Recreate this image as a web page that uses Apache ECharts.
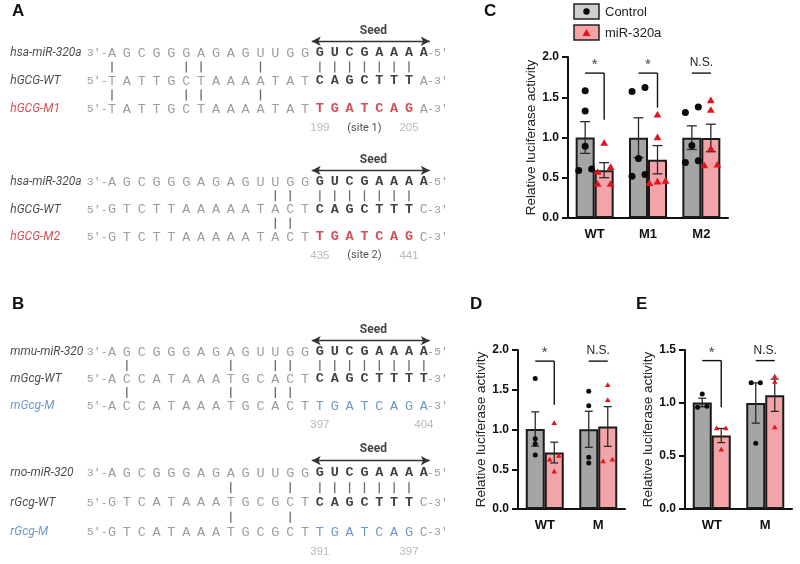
<!DOCTYPE html>
<html>
<head>
<meta charset="utf-8">
<script src="https://cdn.jsdelivr.net/npm/echarts@6/dist/echarts.min.js"></script>
<style>
  html, body { margin: 0; padding: 0; background: #fff; }
  #chart { width: 800px; height: 564px; }
</style>
</head>
<body>
<div id="chart"></div>
<script>
// ---------- luciferase data (panels C, D, E) ----------
const groupNames = ['Control', 'miR-320a']
const catsC = ['WT', 'M1', 'M2']
const ctrlC = [[1.58, 1.33, 0.89, 0.59, 0.61], [1.62, 1.57, 0.74, 0.52, 0.54], [1.38, 1.31, 0.90, 0.69, 0.71]]
const mirC = [[0.93, 0.57, 0.63, 0.42, 0.42], [1.28, 1.00, 0.43, 0.46, 0.45], [1.46, 1.34, 0.86, 0.65, 0.66]]
const catsD = ['WT', 'M']
const ctrlD = [[1.64, 0.885, 0.82, 0.68], [1.48, 1.30, 0.65, 0.58]]
const mirD = [[1.08, 0.62, 0.67, 0.47], [1.56, 1.37, 0.60, 0.62]]
const catsE = ['WT', 'M']
const ctrlE = [[1.085, 0.96, 0.97], [1.19, 1.19, 0.62]]
const mirE = [[0.76, 0.76, 0.56], [1.25, 1.20, 0.77]]
const yMaxC = 2.0, yMaxD = 2.0, yMaxE = 1.5
const yName = 'Relative luciferase activity'
// significance: label, bracket level, drop level (null = plain bar)
const sigC = [['*', 1.80, 1.22], ['*', 1.80, 1.37], ['N.S.', 1.80, null]]
const sigD = [['*', 1.86, 1.31], ['N.S.', 1.86, null]]
const sigE = [['*', 1.40, 0.96], ['N.S.', 1.40, null]]

// ---------- sequence alignments (panels A, B) ----------
const alignNames = [
  ['hsa-miR-320a', 'hGCG-WT', 'hGCG-M1'],
  ['hsa-miR-320a', 'hGCG-WT', 'hGCG-M2'],
  ['mmu-miR-320', 'mGcg-WT', 'mGcg-M'],
  ['rno-miR-320', 'rGcg-WT', 'rGcg-M']
]
const mirnaSeq = ['AGCGGGAGAGUUGG', 'GUCGAAAA']
const wtSeqs = [
  ['TATTGCTAAAATAT', 'CAGCTTT', 'A'],
  ['GTCTTAAAAATACT', 'CAGCTTT', 'C'],
  ['ACCATAAATGCACT', 'CAGCTTTT', ''],
  ['GTCATAAATGCGCT', 'CAGCTTT', 'C']
]
const mutSeqs = [
  ['TATTGCTAAAATAT', 'TGATCAG', 'A'],
  ['GTCTTAAAAATACT', 'TGATCAG', 'C'],
  ['ACCATAAATGCACT', 'TGATCAGA', ''],
  ['GTCATAAATGCGCT', 'TGATCAG', 'C']
]
const pairCols = [[0, 5, 6, 10], [11, 12], [1, 8, 11, 12], [8, 12]]
const siteNums = [['199', '205'], ['435', '441'], ['397', '404'], ['391', '397']]
const siteTags = ['(site 1)', '(site 2)', '', '']

// ---------- layout ----------
const FONT = 'Liberation Sans'
const BAR_W = 19
const alignRow0 = [53, 182, 352, 473]
const alignGap = [28, 27.5, 27, 29.5]
const COL0 = 112, COLW = 14.85
const mutColor = ['#c8202a', '#c8202a', '#4a7ebb', '#4a7ebb']

const mean = a => a.reduce((s, v) => s + v, 0) / a.length
const sem = a => {
  const m = mean(a)
  return Math.sqrt(a.reduce((s, v) => s + (v - m) * (v - m), 0) / (a.length - 1) / a.length)
}

// spread overlapping dots sideways
function swarmOffset(vals, k, ppu, size) {
  const idx = vals.map((v, i) => i).sort((a, b) => vals[a] - vals[b])
  const clusters = [[idx[0]]]
  for (let i = 1; i < idx.length; i++) {
    const last = clusters[clusters.length - 1]
    if ((vals[idx[i]] - vals[last[last.length - 1]]) * ppu < size) last.push(idx[i])
    else clusters.push([idx[i]])
  }
  const cl = clusters.find(c => c.includes(k))
  const n = cl.length, j = cl.indexOf(k)
  const sp = n === 2 ? size * 1.85 : size * 1.15
  return (j - (n - 1) / 2) * sp
}

const grids = [], xAxes = [], yAxes = [], series = []

function addPanel(box, cats, ctrl, mir, sig, yMax, size) {
  const gi = grids.length
  grids.push({ left: box[0], top: box[1], width: box[2], height: box[3], outerBoundsMode: 'none' })
  xAxes.push({
    gridIndex: gi, type: 'category', data: cats,
    axisLine: { lineStyle: { color: '#111', width: 2 } },
    axisTick: { show: false },
    axisLabel: { fontFamily: FONT, fontWeight: 'bold', fontSize: 13, color: '#111', margin: 10 }
  })
  yAxes.push({
    gridIndex: gi, type: 'value', min: 0, max: yMax, interval: 0.5,
    axisLine: { show: true, lineStyle: { color: '#111', width: 2 } },
    axisTick: { show: true, length: 6, lineStyle: { color: '#111', width: 2 } },
    axisLabel: { fontFamily: FONT, fontWeight: 'bold', fontSize: 12, color: '#111', margin: 9,
      formatter: v => v.toFixed(1) },
    splitLine: { show: false },
    name: yName, nameLocation: 'middle', nameGap: 30,
    nameTextStyle: { fontFamily: FONT, fontSize: 13.5, color: '#222' }
  })
  const groups = [ctrl, mir]
  const fills = ['#a5a5a5', '#f2a4a8']
  groups.forEach((g, gix) => {
    series.push({
      type: 'bar', name: groupNames[gix], xAxisIndex: gi, yAxisIndex: gi,
      data: g.map(mean), barWidth: BAR_W, barGap: '0%', silent: true,
      itemStyle: { color: fills[gix], borderColor: '#1a1a1a', borderWidth: 2 }
    })
  })
  // error bars (mean +- SEM)
  const errData = []
  groups.forEach((g, gix) => g.forEach((vals, c) => errData.push([c, gix, mean(vals), sem(vals)])))
  const cap = size + 3
  series.push({
    type: 'custom', xAxisIndex: gi, yAxisIndex: gi, encode: { x: 0, y: 2 }, z: 4, silent: true,
    data: errData,
    renderItem(params, api) {
      const c = api.value(0), g = api.value(1), m = api.value(2), s = api.value(3)
      const x = api.coord([c, m])[0] + (g ? BAR_W / 2 : -BAR_W / 2)
      const yt = api.coord([c, m + s])[1], yb = api.coord([c, m - s])[1]
      const st = { stroke: '#2a2a2a', lineWidth: 1.3 }
      return { type: 'group', children: [
        { type: 'line', shape: { x1: x, y1: yt, x2: x, y2: yb }, style: st },
        { type: 'line', shape: { x1: x - cap / 2, y1: yt, x2: x + cap / 2, y2: yt }, style: st },
        { type: 'line', shape: { x1: x - cap / 2, y1: yb, x2: x + cap / 2, y2: yb }, style: st }
      ] }
    }
  })
  // individual points
  const ptData = []
  groups.forEach((g, gix) => g.forEach((vals, c) => vals.forEach((v, k) => ptData.push([c, gix, v, k]))))
  series.push({
    type: 'custom', xAxisIndex: gi, yAxisIndex: gi, encode: { x: 0, y: 2 }, z: 5, silent: true,
    data: ptData,
    renderItem(params, api) {
      const c = api.value(0), g = api.value(1), v = api.value(2), k = api.value(3)
      const ppu = api.size([0, 1])[1]
      const off = swarmOffset(groups[g][c], k, ppu, size)
      const p = api.coord([c, v])
      const x = p[0] + (g ? BAR_W / 2 : -BAR_W / 2) + off
      if (g === 0) return { type: 'circle', shape: { cx: x, cy: p[1], r: size / 2 }, style: { fill: '#0a0a0a' } }
      const w = size * 1.12, h = size * 0.95
      return { type: 'polygon', shape: { points: [[x, p[1] - h * 0.6], [x - w / 2, p[1] + h * 0.4], [x + w / 2, p[1] + h * 0.4]] },
        style: { fill: '#e0141e' } }
    }
  })
  // significance brackets
  series.push({
    type: 'custom', xAxisIndex: gi, yAxisIndex: gi, encode: { x: 0, y: 1 }, z: 6, silent: true,
    data: sig.map((s, c) => [c, s[1]]),
    renderItem(params, api) {
      const s = sig[params.dataIndex], c = params.dataIndex
      const p = api.coord([c, s[1]])
      const xl = p[0] - BAR_W / 2, xr = p[0] + BAR_W / 2
      const st = { stroke: '#111', lineWidth: 1.4 }
      const ch = [{ type: 'line', shape: { x1: xl, y1: p[1], x2: xr, y2: p[1] }, style: st }]
      if (s[2] != null) ch.push({ type: 'line', shape: { x1: xr, y1: p[1], x2: xr, y2: api.coord([c, s[2]])[1] }, style: st })
      const star = s[0] === '*'
      ch.push({ type: 'text', style: { text: s[0], x: p[0], y: p[1] - (star ? 8 : 10), align: 'center', verticalAlign: 'middle',
        fill: star ? '#444' : '#222', font: (star ? '15px ' : '12px ') + FONT } })
      return { type: 'group', children: ch }
    }
  })
}

addPanel([568, 57, 160, 161], catsC, ctrlC, mirC, sigC, yMaxC, 7)
addPanel([518, 350, 107, 159], catsD, ctrlD, mirD, sigD, yMaxD, 5)
addPanel([685, 350, 107, 159], catsE, ctrlE, mirE, sigE, yMaxE, 5)

function addAlignment(b) {
  const gi = grids.length
  const gap = alignGap[b]
  grids.push({ left: COL0 - 7 * COLW, top: alignRow0[b] - gap, width: 30.5 * COLW, height: 4 * gap, outerBoundsMode: 'none' })
  xAxes.push({ gridIndex: gi, type: 'value', min: -7, max: 23.5, show: false })
  yAxes.push({ gridIndex: gi, type: 'value', min: -1, max: 3, inverse: true, show: false })

  const SEQ = { color: '#858585' }
  const SEED = { color: '#111', fontWeight: 'bold' }
  const MUT = { color: mutColor[b], fontWeight: b < 2 ? 'bold' : 'normal' }
  const END = { color: '#858585', fontSize: 11.5 }
  const rows = [
    { name: alignNames[b][0], nc: '#1a1a1a', pre: "3'-", suf: "-5'", parts: [[mirnaSeq[0], SEQ], [mirnaSeq[1], SEED]] },
    { name: alignNames[b][1], nc: '#1a1a1a', pre: "5'-", suf: "-3'", parts: [[wtSeqs[b][0], SEQ], [wtSeqs[b][1], SEED], [wtSeqs[b][2], SEQ]] },
    { name: alignNames[b][2], nc: mutColor[b], pre: "5'-", suf: "-3'", parts: [[mutSeqs[b][0], SEQ], [mutSeqs[b][1], MUT], [mutSeqs[b][2], SEQ]] }
  ]
  const items = []
  const put = (col, row, text, lab) => items.push({ name: text, value: [col, row], label: lab })
  rows.forEach((r, ri) => {
    put(-6.85, ri, r.name, { align: 'left', fontFamily: 'Roboto', fontStyle: 'italic', fontSize: 12, color: r.nc })
    put(-0.3, ri, r.pre, Object.assign({ align: 'right' }, END))
    let col = 0
    r.parts.forEach(([seq, st]) => {
      for (const ch of seq) { put(col, ri, ch, st); col++ }
    })
    put(col - 1 + 0.22, ri, r.suf, Object.assign({ align: 'left' }, END))
  })
  put(17.6, -0.8, 'Seed', { fontFamily: 'Roboto', fontWeight: 'bold', fontSize: 12, color: '#111' })
  const nSeed = mutSeqs[b][1].length
  put(14, 2.68, siteNums[b][0], { fontFamily: FONT, fontSize: 11.5, color: '#a8a8a8' })
  put(14 + nSeed - 1, 2.68, siteNums[b][1], { fontFamily: FONT, fontSize: 11.5, color: '#a8a8a8' })
  if (siteTags[b]) put(17, 2.68, siteTags[b], { fontFamily: 'Roboto', fontSize: 11, color: '#222' })

  series.push({
    type: 'scatter', xAxisIndex: gi, yAxisIndex: gi, silent: true, symbolSize: 1,
    itemStyle: { color: 'rgba(0,0,0,0)' },
    label: { show: true, position: 'inside', verticalAlign: 'middle', formatter: p => p.name,
      fontFamily: 'Liberation Mono', fontSize: 13.5, color: '#858585' },
    data: items
  })

  // base-pair ticks and the seed arrow
  const seedCols = wtSeqs[b][1].split('').map((_, i) => 14 + i)
  const ticks = pairCols[b].concat(seedCols).map(c => [c, 0.5]).concat(pairCols[b].map(c => [c, 1.5]))
  series.push({
    type: 'scatter', xAxisIndex: gi, yAxisIndex: gi, silent: true,
    symbol: 'rect', symbolSize: [1.3, 11], itemStyle: { color: '#444' },
    data: ticks,
    markLine: {
      silent: true, symbol: ['arrow', 'arrow'], symbolSize: [7, 9],
      label: { show: false },
      lineStyle: { color: '#333', width: 1.3, type: 'solid' },
      data: [[{ coord: [13.45, -0.42] }, { coord: [21.4, -0.42] }]]
    }
  })
}
for (let b = 0; b < 4; b++) addAlignment(b)

const letter = (t, x, y) => ({ type: 'text', x, y, style: { text: t, font: 'bold 17px ' + FONT, fill: '#111' } })
const graphic = [
  letter('A', 12, 3), letter('B', 12, 296), letter('C', 484, 3), letter('D', 470, 296), letter('E', 636, 296),
  { type: 'rect', shape: { x: 574, y: 4, width: 25, height: 15 }, style: { fill: '#cfcfcf', stroke: '#222', lineWidth: 1.5 } },
  { type: 'circle', shape: { cx: 586.5, cy: 11.5, r: 3.2 }, style: { fill: '#000' } },
  { type: 'text', x: 605, y: 12, style: { text: groupNames[0], font: '13px ' + FONT, fill: '#222', verticalAlign: 'middle' } },
  { type: 'rect', shape: { x: 574, y: 25, width: 25, height: 15 }, style: { fill: '#f5a3a6', stroke: '#222', lineWidth: 1.5 } },
  { type: 'polygon', shape: { points: [[586.5, 29], [582.5, 36], [590.5, 36]] }, style: { fill: '#e0141e' } },
  { type: 'text', x: 605, y: 33, style: { text: groupNames[1], font: '13px ' + FONT, fill: '#222', verticalAlign: 'middle' } }
]

const chart = echarts.init(document.getElementById('chart'))
chart.setOption({
  backgroundColor: '#ffffff',
  animation: false,
  grid: grids,
  xAxis: xAxes,
  yAxis: yAxes,
  series,
  graphic
})
</script>
</body>
</html>
